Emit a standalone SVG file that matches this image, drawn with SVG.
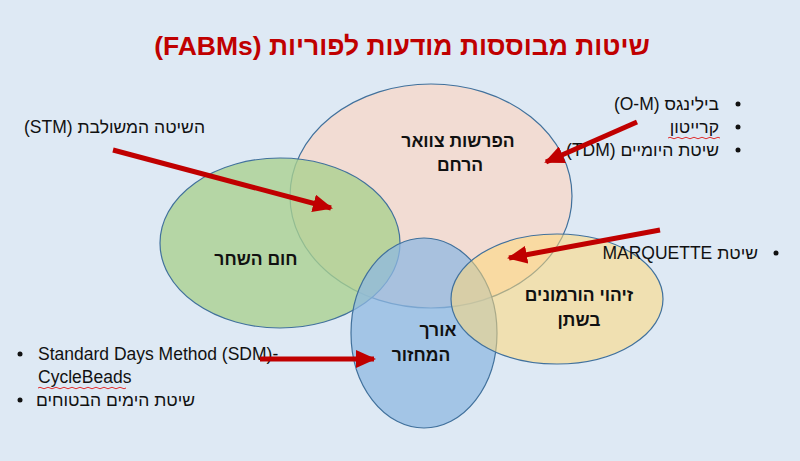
<svg xmlns="http://www.w3.org/2000/svg" width="800" height="461" viewBox="0 0 800 461">
<defs>
<style>
.ell{stroke:#41719C;stroke-width:1.2}
.lbl{font-family:"Liberation Sans","DejaVu Sans",sans-serif;font-size:17.5px;font-weight:bold;fill:#111;text-anchor:middle}
.txt{font-family:"Liberation Sans","DejaVu Sans",sans-serif;font-size:17.5px;fill:#111}
.arr{stroke:#C00000;stroke-width:5;fill:none;marker-end:url(#ah)}
.sq{stroke:#E03030;stroke-width:1;fill:none}
</style>
<marker id="ah" markerUnits="userSpaceOnUse" markerWidth="20" markerHeight="18" refX="18" refY="9" orient="auto">
<path d="M0,0 L20,9 L0,18 Z" fill="#C00000"/>
</marker>
</defs>
<rect width="800" height="461" fill="#DEE9F4"/>
<text x="402" y="55" direction="rtl" font-family="Liberation Sans, DejaVu Sans, sans-serif" font-size="26.5" font-weight="bold" fill="#C00000" text-anchor="middle">שיטות מבוססות מודעות לפוריות (FABMs)</text>

<g id="node-cervical">
<ellipse class="ell" cx="431" cy="196" rx="141" ry="112" fill="#F6D8CA" fill-opacity="0.8"/>
</g>
<g id="node-temperature">
<ellipse class="ell" cx="280" cy="243" rx="120" ry="85" fill="#A9D18E" fill-opacity="0.78"/>
</g>
<g id="node-cycle">
<ellipse class="ell" cx="424" cy="333" rx="73" ry="95" fill="#8FB8E2" fill-opacity="0.75"/>
</g>
<g id="node-hormones">
<ellipse class="ell" cx="557" cy="299" rx="106" ry="65" fill="#FFD97A" fill-opacity="0.55"/>
</g>
<g id="labels">
<text class="lbl" x="458" y="147">הפרשות צוואר</text>
<text class="lbl" x="460" y="171">הרחם</text>
<text class="lbl" x="256" y="265">חום השחר</text>
<text class="lbl" x="438" y="336">אורך</text>
<text class="lbl" x="421" y="361">המחזור</text>
<text class="lbl" x="579" y="301">זיהוי הורמונים</text>
<text class="lbl" x="579" y="326">בשתן</text>
</g>

<g id="side-stm">
<text class="txt" x="205" y="133" direction="rtl" text-anchor="start">השיטה המשולבת (STM)</text>
</g>
<g id="side-right">
<circle cx="738" cy="104" r="2.5" fill="#111"/>
<circle cx="738" cy="127" r="2.5" fill="#111"/>
<circle cx="738" cy="150" r="2.5" fill="#111"/>
<text class="txt" x="719" y="110" direction="rtl" text-anchor="start">בילינגס (O-M)</text>
<text class="txt" x="719" y="133" direction="rtl" text-anchor="start">קרייטון</text>
<path class="sq" d="M668,138 q2,-1.5 4,0 t4,0 t4,0 t4,0 t4,0 t4,0 t4,0 t4,0 t4,0 t4,0 t4,0 t4,0 t4,0"/>
<text class="txt" x="719" y="156" direction="rtl" text-anchor="start">שיטת היומיים (TDM)</text>
</g>
<g id="side-marquette">
<circle cx="776" cy="253" r="2.5" fill="#111"/>
<text class="txt" x="758" y="259" direction="rtl" text-anchor="start" font-size="16.5">שיטת MARQUETTE</text>
</g>
<g id="side-sdm">
<circle cx="20" cy="354" r="2.5" fill="#111"/>
<circle cx="20" cy="400" r="2.5" fill="#111"/>
<text class="txt" x="38" y="360">Standard Days Method (SDM)-</text>
<text class="txt" x="38" y="383">CycleBeads</text>
<path class="sq" d="M38,388 q2,-1.5 4,0 t4,0 t4,0 t4,0 t4,0 t4,0 t4,0 t4,0 t4,0 t4,0 t4,0 t4,0 t4,0 t4,0 t4,0 t4,0 t4,0 t4,0 t4,0 t4,0 t4,0 t4,0"/>
<text class="txt" x="195" y="406" direction="rtl" text-anchor="start">שיטת הימים הבטוחים</text>
</g>

<g id="connectors">
<line class="arr" x1="113" y1="150" x2="331" y2="208"/>
<line class="arr" x1="637" y1="122" x2="546" y2="162"/>
<line class="arr" x1="660" y1="230" x2="509" y2="258"/>
<line class="arr" x1="260" y1="359" x2="374" y2="359"/>
</g>
</svg>
